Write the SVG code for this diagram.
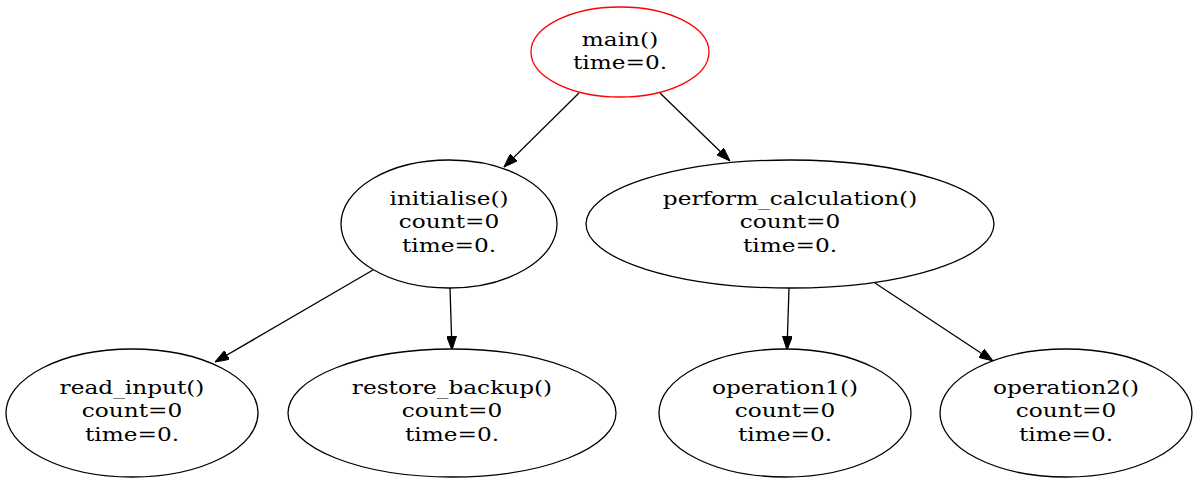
<svg xmlns="http://www.w3.org/2000/svg" width="1200" height="485" viewBox="0 0 1200 485">
<style>
.n{fill:#fff;stroke:#000;stroke-width:1.3}
.t{font-family:"DejaVu Serif","Liberation Serif",serif;font-size:18.3px;text-anchor:middle;fill:#000}
.e{stroke:#000;stroke-width:1.3;fill:none}
</style>
<defs>
<marker id="a" markerWidth="14" markerHeight="10" refX="14" refY="5" orient="auto" markerUnits="userSpaceOnUse" viewBox="0 0 14 10">
<path d="M0,0 L14,5 L0,10 Z" fill="#000" stroke="#000"/>
</marker>
</defs>
<rect width="1200" height="485" fill="#fff"/>
<g id="edges">
<line class="e" x1="579" y1="93" x2="504" y2="167" marker-end="url(#a)"/>
<line class="e" x1="660" y1="93" x2="730" y2="161" marker-end="url(#a)"/>
<line class="e" x1="373" y1="270" x2="215" y2="362" marker-end="url(#a)"/>
<line class="e" x1="450" y1="288" x2="452" y2="350" marker-end="url(#a)"/>
<line class="e" x1="789" y1="288" x2="787" y2="350" marker-end="url(#a)"/>
<line class="e" x1="875" y1="283" x2="993" y2="361" marker-end="url(#a)"/>
</g>
<g id="main">
<ellipse cx="620" cy="52" rx="89" ry="45" fill="#fff" stroke="#ff0000" stroke-width="1.3"/>
<text class="t" transform="translate(620,45.5) scale(1.27,1)">main()</text>
<text class="t" transform="translate(620,69) scale(1.27,1)">time=0.</text>
</g>
<g id="initialise">
<ellipse class="n" cx="449" cy="224" rx="108" ry="64"/>
<text class="t" transform="translate(449,204.5) scale(1.27,1)">initialise()</text>
<text class="t" transform="translate(449,228) scale(1.27,1)">count=0</text>
<text class="t" transform="translate(449,251.5) scale(1.27,1)">time=0.</text>
</g>
<g id="perform_calculation">
<ellipse class="n" cx="790" cy="224" rx="204" ry="64"/>
<text class="t" transform="translate(790,204.5) scale(1.27,1)">perform_calculation()</text>
<text class="t" transform="translate(790,228) scale(1.27,1)">count=0</text>
<text class="t" transform="translate(790,251.5) scale(1.27,1)">time=0.</text>
</g>
<g id="read_input">
<ellipse class="n" cx="132" cy="413" rx="126" ry="64"/>
<text class="t" transform="translate(132,393.5) scale(1.27,1)">read_input()</text>
<text class="t" transform="translate(132,417) scale(1.27,1)">count=0</text>
<text class="t" transform="translate(132,440.5) scale(1.27,1)">time=0.</text>
</g>
<g id="restore_backup">
<ellipse class="n" cx="452" cy="413" rx="164" ry="64"/>
<text class="t" transform="translate(452,393.5) scale(1.27,1)">restore_backup()</text>
<text class="t" transform="translate(452,417) scale(1.27,1)">count=0</text>
<text class="t" transform="translate(452,440.5) scale(1.27,1)">time=0.</text>
</g>
<g id="operation1">
<ellipse class="n" cx="785" cy="413" rx="126" ry="64"/>
<text class="t" transform="translate(785,393.5) scale(1.27,1)">operation1()</text>
<text class="t" transform="translate(785,417) scale(1.27,1)">count=0</text>
<text class="t" transform="translate(785,440.5) scale(1.27,1)">time=0.</text>
</g>
<g id="operation2">
<ellipse class="n" cx="1066" cy="413" rx="126" ry="64"/>
<text class="t" transform="translate(1066,393.5) scale(1.27,1)">operation2()</text>
<text class="t" transform="translate(1066,417) scale(1.27,1)">count=0</text>
<text class="t" transform="translate(1066,440.5) scale(1.27,1)">time=0.</text>
</g>
</svg>
